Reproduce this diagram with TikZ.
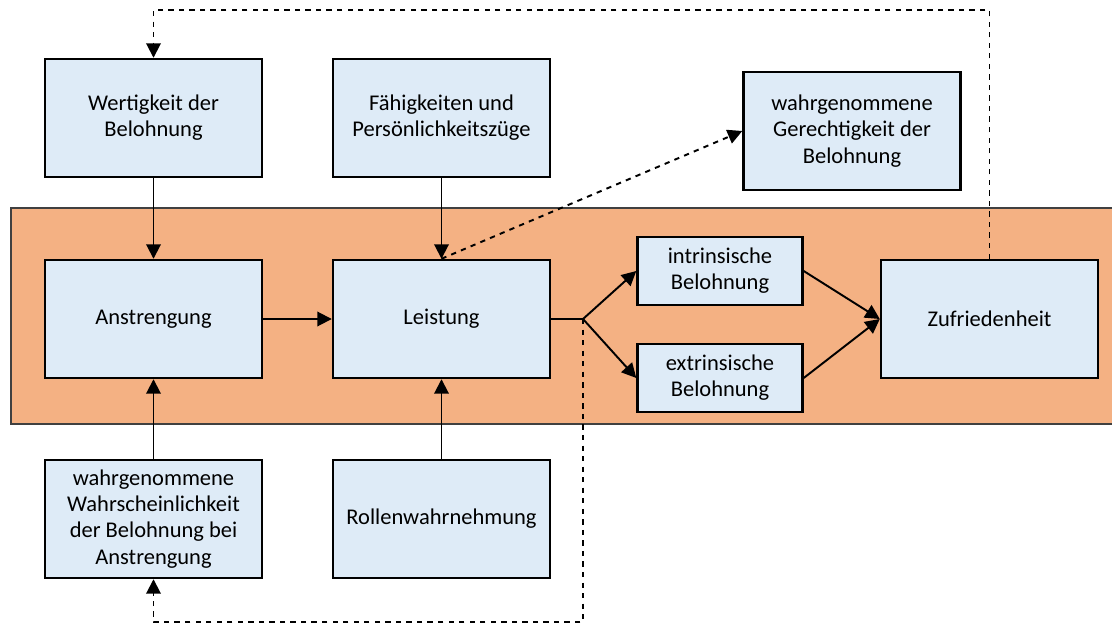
\documentclass[tikz,border=0pt]{standalone}
\usepackage{fontspec}
\setmainfont{Carlito}
\usetikzlibrary{arrows.meta}

\definecolor{bandOrange}{HTML}{F4B183}
\definecolor{boxBlue}{HTML}{DEEBF7}

\tikzset{
  boxnode/.style = {draw, line width=1.4pt, fill=boxBlue, align=center,
    minimum width=4.34cm, minimum height=2.36cm, inner sep=2pt,
    font=\fontsize{12.8}{14.9}\selectfont},
  smallbox/.style = {minimum width=3.3cm, minimum height=1.36cm},
  arrow/.style = {line width=1.1pt, -{Triangle[length=0.29cm,width=0.29cm]}},
  dasharrow/.style = {arrow, dashed},
}
\newcommand{\myBox}[4][]{
\node[boxnode,#1] (#2) at (#3) {#4};
}

\begin{document}
\begin{tikzpicture}[x=0.02cm, y=-0.02cm]
	\useasboundingbox (0,0) rectangle (1112,625);
	\fill[bandOrange, draw=black!75, line width=0.6pt] (11,208) rectangle (1116,424);

	\myBox{wert}{153.5,118}{Wertigkeit der\\Belohnung}
	\myBox{faeh}{441.5,118}{Fähigkeiten und\\Persönlichkeitszüge}
	\myBox{gerecht}{852,131}{wahrgenommene\\Gerechtigkeit der\\Belohnung}
	\myBox{anstr}{153.5,319}{Anstrengung}
	\myBox{leist}{441.5,319}{Leistung}
	\myBox[smallbox]{intr}{720,271}{intrinsische\\Belohnung}
	\myBox[smallbox]{extr}{720,378}{extrinsische\\Belohnung}
	\myBox{zufr}{989.5,319}{Zufriedenheit}
	\myBox{wahr}{153.5,519}{wahrgenommene\\Wahrscheinlichkeit\\der Belohnung bei\\Anstrengung}
	\myBox{rolle}{441.5,519}{Rollenwahrnehmung}

	\coordinate (split) at (583,319);
	\coordinate (topline) at (0,10);
	\coordinate (botline) at (0,622);

	\draw[arrow] (wert) -- (anstr);
	\draw[arrow] (faeh) -- (leist);
	\draw[arrow] (wahr) -- (anstr);
	\draw[arrow] (rolle) -- (leist);
	\draw[arrow] (anstr) -- (leist);
	\draw[line width=1.1pt] (leist.east) -- (split);
	\draw[arrow] (split) -- (intr.west);
	\draw[arrow] (split) -- (extr.west);
	\draw[arrow] (intr.east) -- (zufr.west);
	\draw[arrow] (extr.east) -- (zufr.west);

	% feedback loops
	\draw[dasharrow] (leist.north) -- (gerecht.west);
	\draw[dasharrow] (zufr.north) -- (zufr.north |- topline) -| (wert.north);
	\draw[dasharrow] (split) -- (split |- botline) -| (wahr.south);
\end{tikzpicture}
\end{document}
